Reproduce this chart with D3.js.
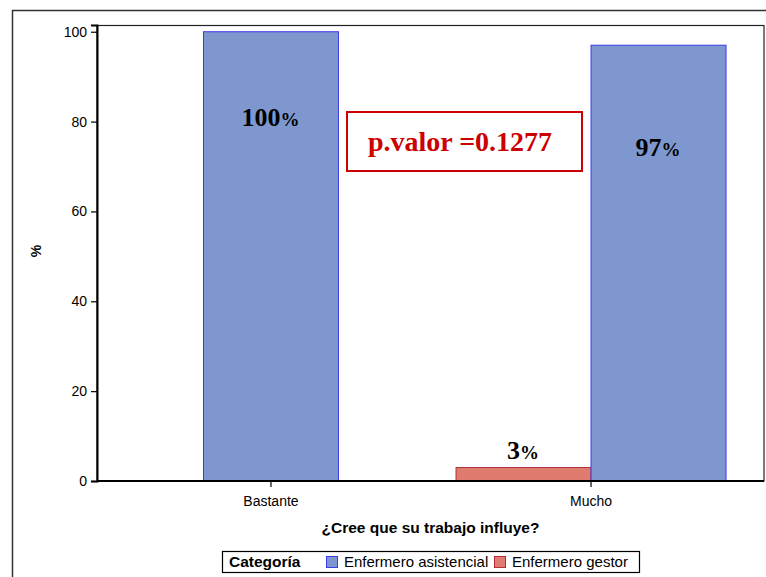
<!DOCTYPE html>
<html>
<head>
<meta charset="utf-8">
<script src="https://cdn.jsdelivr.net/npm/d3@7"></script>
<style>
  html, body { margin: 0; padding: 0; background: #fff; }
  svg { display: block; }
</style>
</head>
<body>
<svg id="chart" width="766" height="577"></svg>
<script>
// Categories on the x axis
const categories = ["Bastante", "Mucho"];
// Series (legend order) and per-category percentages (null = no bar)
const seriesNames = ["Enfermero asistencial", "Enfermero gestor"];
const asistencialValues = [100, 97];
const gestorValues = [null, 3];
// Order in which bars sit side by side inside a cluster
const clusterOrder = ["Enfermero gestor", "Enfermero asistencial"];
// Value labels and the y value of each label's baseline
const asistencialLabels = ["100", "97"];
const asistencialLabelY = [79.0, 72.3];
const gestorLabels = [null, "3"];
const gestorLabelY = [null, 5.0];
// Y axis ticks
const yTicks = [0, 20, 40, 60, 80, 100];
const pValueText = "p.valor =0.1277";

const colors = {
  "Enfermero asistencial": { fill: "#7e98cf", stroke: "#3a3ae6" },
  "Enfermero gestor": { fill: "#df7c6f", stroke: "#b3303a" }
};

const SANS = "Liberation Sans, Arial, sans-serif";
const SERIF = "Liberation Serif, Times New Roman, serif";

const svg = d3.select("#chart");
const W = 766, H = 577;
const plot = { left: 97, right: 764, top: 25, bottom: 481 };

// Outer frame (top and left edges)
svg.append("line").attr("x1", 12).attr("x2", W).attr("y1", 10.5).attr("y2", 10.5)
  .attr("stroke", "#333").attr("stroke-width", 1.5);
svg.append("line").attr("x1", 12.5).attr("x2", 12.5).attr("y1", 10).attr("y2", H)
  .attr("stroke", "#333").attr("stroke-width", 1.5);

const x = d3.scalePoint().domain(categories).range([plot.left, plot.right]).padding(0.542);
const y = d3.scaleLinear().domain([0, 101.5]).range([plot.bottom, plot.top]);
const barW = 135;

// Build bar records
const rows = categories.map((c, i) => {
  const vals = {
    "Enfermero asistencial": { v: asistencialValues[i], lab: asistencialLabels[i], ly: asistencialLabelY[i] },
    "Enfermero gestor": { v: gestorValues[i], lab: gestorLabels[i], ly: gestorLabelY[i] }
  };
  const present = clusterOrder.filter(s => vals[s].v != null);
  const sub = d3.scaleBand().domain(present)
    .range([x(c) - barW * present.length / 2, x(c) + barW * present.length / 2]);
  return present.map(s => ({ cat: c, series: s, value: vals[s].v, label: vals[s].lab, labelY: vals[s].ly,
    x0: sub(s), w: sub.bandwidth() }));
}).flat();

// Plot frame
svg.append("rect").attr("x", plot.left).attr("y", plot.top + 0.5)
  .attr("width", plot.right - plot.left).attr("height", plot.bottom - plot.top - 0.5)
  .attr("fill", "none").attr("stroke", "#222").attr("stroke-width", 1.2);

// Bars
svg.append("g").selectAll("rect").data(rows).join("rect")
  .attr("x", d => d.x0 + 0.5)
  .attr("y", d => y(d.value))
  .attr("width", d => d.w)
  .attr("height", d => y(0) - y(d.value))
  .attr("fill", d => colors[d.series].fill)
  .attr("stroke", d => colors[d.series].stroke)
  .attr("stroke-width", 1);

// Axes
const yAxis = d3.axisLeft(y).tickValues(yTicks).tickSize(6).tickPadding(4);
const gy = svg.append("g").attr("transform", `translate(${plot.left},0)`).call(yAxis);
gy.select(".domain").attr("stroke", "#000").attr("stroke-width", 2);
gy.selectAll(".tick line").attr("stroke", "#000").attr("stroke-width", 1.2);
gy.selectAll(".tick text").attr("font-family", SANS)
  .attr("font-size", 14).attr("fill", "#000");

const xAxis = d3.axisBottom(x).tickSize(6).tickPadding(9);
const gx = svg.append("g").attr("transform", `translate(0,${plot.bottom})`).call(xAxis);
gx.select(".domain").attr("stroke", "#000").attr("stroke-width", 2)
  .attr("d", `M${plot.left},0H${plot.right}`);
gx.selectAll(".tick line").attr("stroke", "#000").attr("stroke-width", 1.2);
gx.selectAll(".tick text").attr("font-family", SANS)
  .attr("font-size", 14).attr("fill", "#000");

// Axis titles
svg.append("text").attr("x", (plot.left + plot.right) / 2).attr("y", 533)
  .attr("text-anchor", "middle").attr("font-family", SANS)
  .attr("font-weight", "bold").attr("font-size", 15.5).text("¿Cree que su trabajo influye?");
svg.append("text").attr("transform", "translate(41,251) rotate(-90)")
  .attr("text-anchor", "middle").attr("font-family", SANS)
  .attr("font-weight", "bold").attr("font-size", 14).text("%");

// Value labels
const lab = svg.append("g").selectAll("text").data(rows.filter(d => d.label != null)).join("text")
  .attr("x", d => d.x0 + d.w / 2)
  .attr("y", d => y(d.labelY))
  .attr("text-anchor", "middle")
  .attr("font-family", SERIF)
  .attr("font-weight", "bold").attr("fill", "#000");
lab.append("tspan").attr("font-size", 26).text(d => d.label);
lab.append("tspan").attr("font-size", 19).text("%");

// p-value annotation box
svg.append("rect").attr("x", 347).attr("y", 112).attr("width", 235).attr("height", 59)
  .attr("fill", "#fff").attr("stroke", "#cc0000").attr("stroke-width", 2);
svg.append("text").attr("x", 460).attr("y", 151).attr("text-anchor", "middle")
  .attr("font-family", SERIF)
  .attr("font-weight", "bold").attr("font-size", 28).attr("fill", "#cc0000").text(pValueText);

// Legend
const lg = svg.append("g");
lg.append("rect").attr("x", 222.5).attr("y", 551.5).attr("width", 417).attr("height", 21)
  .attr("fill", "#fff").attr("stroke", "#000").attr("stroke-width", 1.2);
lg.append("text").attr("x", 229).attr("y", 567).attr("font-family", SANS)
  .attr("font-weight", "bold").attr("font-size", 15.5).text("Categoría");
const itemX = [326, 494];
seriesNames.forEach((s, i) => {
  lg.append("rect").attr("x", itemX[i] + 0.5).attr("y", 556.5).attr("width", 11).attr("height", 11)
    .attr("fill", colors[s].fill).attr("stroke", colors[s].stroke).attr("stroke-width", 1);
  lg.append("text").attr("x", itemX[i] + 18).attr("y", 567)
    .attr("font-family", SANS).attr("font-size", 15).text(s);
});
</script>
</body>
</html>
